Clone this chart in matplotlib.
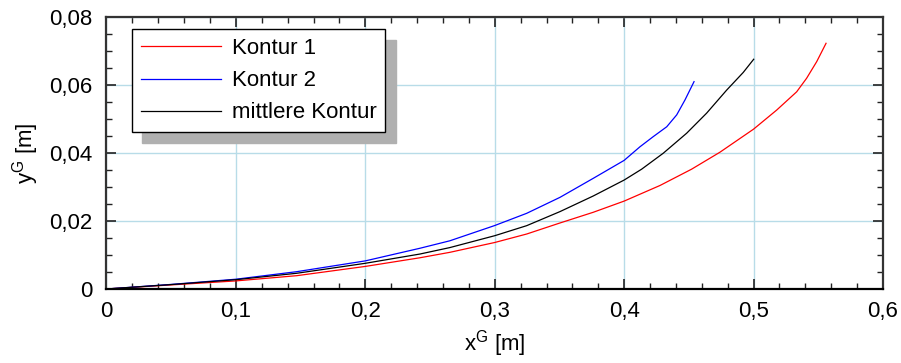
import numpy as np
import matplotlib.pyplot as plt
from matplotlib.ticker import MultipleLocator, FuncFormatter

plt.rcParams['font.family'] = ['Liberation Sans', 'DejaVu Sans']
plt.rcParams['mathtext.fontset'] = 'custom'
plt.rcParams['mathtext.rm'] = 'Liberation Sans'

# contour points, x and y in metres
x_k1 = [0, 0.05, 0.1, 0.147, 0.2, 0.2422, 0.2653, 0.3, 0.3247, 0.35, 0.3761,
        0.4, 0.4277, 0.4521, 0.474, 0.5, 0.5178, 0.5333, 0.541, 0.5488, 0.556]
y_k1 = [0, 0.0012, 0.00238, 0.00392, 0.00665, 0.0092, 0.0108, 0.0137, 0.0162,
        0.0194, 0.0226, 0.0259, 0.0305, 0.0353, 0.0403, 0.0471, 0.0527, 0.0581,
        0.0621, 0.0670, 0.0724]

x_k2 = [0, 0.05, 0.1, 0.147, 0.2, 0.2422, 0.2653, 0.3, 0.3247, 0.3504, 0.3761,
        0.4, 0.4122, 0.4225, 0.4329, 0.4406, 0.4470, 0.4540]
y_k2 = [0, 0.00135, 0.00288, 0.0051, 0.00828, 0.0120, 0.0142, 0.0187, 0.0223,
        0.0270, 0.0326, 0.0379, 0.0419, 0.0449, 0.0478, 0.0513, 0.0557, 0.0611]

x_mid = [0, 0.05, 0.1, 0.147, 0.2, 0.2422, 0.2653, 0.3, 0.3247, 0.3504, 0.3761,
         0.4, 0.4135, 0.4302, 0.4483, 0.4637, 0.4792, 0.4920, 0.5001]
y_mid = [0, 0.0013, 0.00274, 0.00463, 0.00757, 0.0103, 0.0122, 0.0157, 0.01866,
         0.0228, 0.0274, 0.0321, 0.0353, 0.0400, 0.0459, 0.0518, 0.0586, 0.0638,
         0.0677]

labels = ['Kontur 1', 'Kontur 2', 'mittlere Kontur']

fig = plt.figure(figsize=(9.01, 3.63), dpi=100)
ax = fig.add_axes([0.1182, 0.2039, 0.98 - 0.1182, 0.9518 - 0.2039])

ax.plot(x_k1, y_k1, color='#ff0000', lw=0.9, label=labels[0])
ax.plot(x_k2, y_k2, color='#0000ff', lw=0.9, label=labels[1])
ax.plot(x_mid, y_mid, color='black', lw=0.9, label=labels[2])

ax.set_xlim(0, 0.6)
ax.set_ylim(0, 0.08)
ax.xaxis.set_major_locator(MultipleLocator(0.1))
ax.xaxis.set_minor_locator(MultipleLocator(0.02))
ax.yaxis.set_major_locator(MultipleLocator(0.02))
ax.yaxis.set_minor_locator(MultipleLocator(0.005))
# decimal comma on the tick labels
ax.xaxis.set_major_formatter(FuncFormatter(lambda v, p: '0' if v < 1e-9 else ('%.1f' % v).replace('.', ',')))
ax.yaxis.set_major_formatter(FuncFormatter(lambda v, p: '0' if v < 1e-9 else ('%.2f' % v).replace('.', ',')))

ax.grid(True, which='major', color='#b8dce8', lw=1)
ax.set_axisbelow(True)
ax.tick_params(which='both', direction='in', top=True, right=True, labelsize=16, color='#222222')
ax.tick_params(which='major', length=7, width=1.2)
ax.tick_params(which='minor', length=4, width=1)
ax.tick_params(axis='x', pad=9)
ax.tick_params(axis='y', pad=10)
for s in ax.spines.values():
    s.set_linewidth(1.6)
    s.set_color('#333333')
ax.spines['bottom'].set_color('black')

ax.set_xlabel(r'x$^{\mathregular{G}}$ [m]', fontsize=16, labelpad=4)
ax.set_ylabel(r'y$^{\mathregular{G}}$ [m]', fontsize=16, labelpad=6)

leg = ax.legend(loc='upper left', bbox_to_anchor=(131.7 / 901, 1 - 29.3 / 363),
                bbox_transform=fig.transFigure, borderaxespad=0, fontsize=16,
                fancybox=False, framealpha=1, edgecolor='black',
                handlelength=3.6, handletextpad=0.5, labelspacing=0.5,
                borderpad=0.4,
                shadow={'ox': 7.5, 'oy': -7.5, 'color': '#b0b0b0', 'alpha': 1})
leg.get_frame().set_linewidth(1)

fig.savefig('out.png', dpi=100)
